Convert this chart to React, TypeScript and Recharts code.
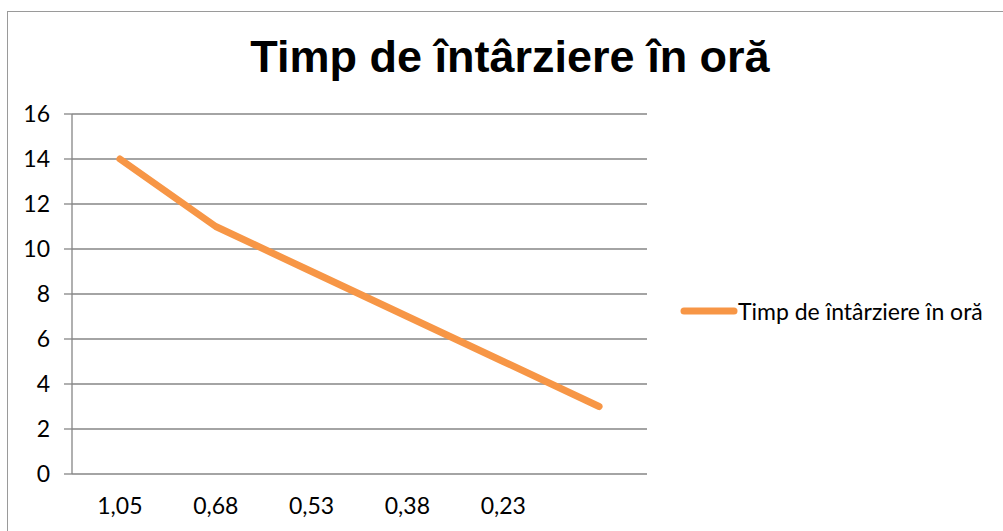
import React from "react";
import { LineChart, Line, XAxis, YAxis, CartesianGrid, Legend } from "recharts";

const categories = ["1,05", "0,68", "0,53", "0,38", "0,23", ""];
const delayValues = [14, 11, 9, 7, 5, 3];
const yTicks = [0, 2, 4, 6, 8, 10, 12, 14, 16];
const boundaryTicks = [0, 1, 2, 3, 4, 5, 6];
const seriesName = "Timp de întârziere în oră";
const titleText = "Timp de întârziere în oră";

const data = categories.map((c, i) => ({ cat: c, value: delayValues[i] }));

const ORANGE = "#F79646";
const GRAY = "#868686";
const FONT = "Lato, 'Noto Sans', sans-serif";

const LegendContent = () => (
  <div style={{ display: "flex", alignItems: "center", fontFamily: FONT, fontSize: 23, color: "#000", whiteSpace: "nowrap" }}>
    <svg width={58} height={10} style={{ display: "block" }}>
      <line x1={4} y1={5} x2={54} y2={5} stroke={ORANGE} strokeWidth={7} strokeLinecap="round" />
    </svg>
    <span>{seriesName}</span>
  </div>
);

export default function App() {
  return (
    <div style={{ position: "absolute", left: 0, top: 0, width: 1003, height: 531, overflow: "hidden", background: "#fff" }}>
      <div style={{ position: "absolute", left: 7, top: 11, width: 1010, height: 540, border: "1.5px solid #9a9a9a", boxSizing: "border-box" }} />
      <div
        style={{
          position: "absolute",
          left: 0,
          top: 29,
          width: 1020,
          textAlign: "center",
          fontFamily: "'Liberation Sans', Arial, sans-serif",
          fontWeight: 700,
          fontSize: 45,
          color: "#000",
          lineHeight: "56px",
        }}
      >
        {titleText}
      </div>
      <div style={{ position: "absolute", left: 0, top: 0 }}>
        <LineChart width={1003} height={531} data={data} margin={{ top: 114, right: 356, bottom: 4, left: 0 }}>
          <CartesianGrid horizontal vertical={false} stroke={GRAY} strokeWidth={1.3} />
          <XAxis
            xAxisId="bnd"
            type="number"
            domain={[0, 6]}
            allowDataOverflow
            ticks={boundaryTicks}
            tick={false}
            tickSize={8}
            height={0}
            axisLine={{ stroke: GRAY, strokeWidth: 1.3 }}
            tickLine={{ stroke: GRAY, strokeWidth: 1.3 }}
          />
          <XAxis
            xAxisId="cat"
            dataKey="cat"
            type="category"
            scale="band"
            height={25}
            axisLine={false}
            tickLine={false}
            tickSize={8}
            tickMargin={16}
            interval={0}
            tick={{ fill: "#000", fontSize: 23, fontFamily: FONT }}
          />
          <YAxis
            width={72}
            domain={[0, 16]}
            ticks={yTicks}
            interval={0}
            tickSize={8}
            tickMargin={14}
            axisLine={{ stroke: GRAY, strokeWidth: 1.3 }}
            tickLine={{ stroke: GRAY, strokeWidth: 1.3 }}
            tick={{ fill: "#000", fontSize: 23, fontFamily: FONT }}
          />
          <Legend
            content={<LegendContent />}
            wrapperStyle={{ position: "absolute", left: 680, top: 297, width: "auto" }}
          />
          <Line
            xAxisId="cat"
            dataKey="value"
            name={seriesName}
            stroke={ORANGE}
            strokeWidth={7}
            strokeLinecap="round"
            strokeLinejoin="round"
            dot={false}
            activeDot={false}
            isAnimationActive={false}
          />
        </LineChart>
      </div>
    </div>
  );
}
